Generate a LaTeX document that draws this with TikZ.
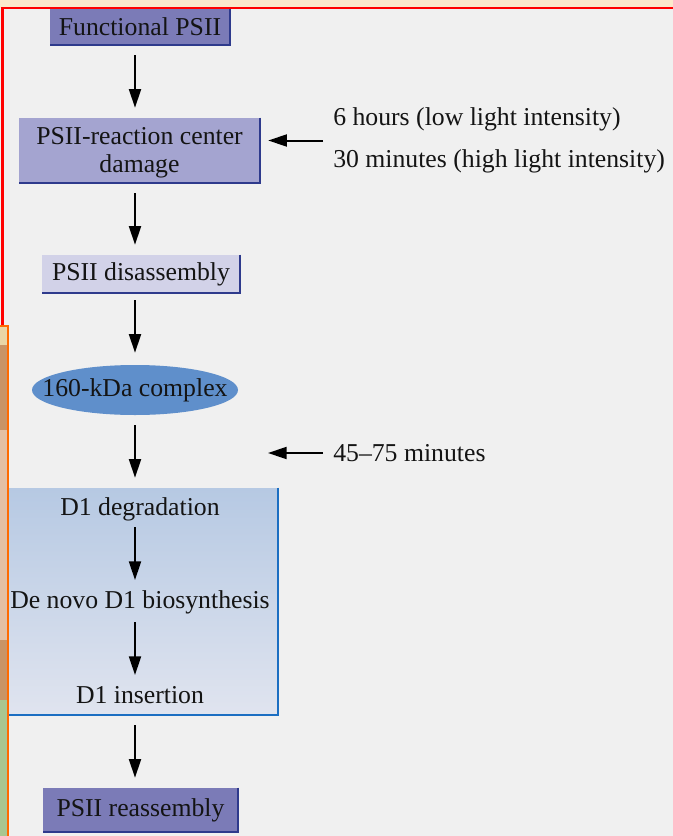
\documentclass[tikz,border=0pt]{standalone}
\usepackage{fontspec}
\setmainfont{Liberation Serif}
\usetikzlibrary{arrows.meta,shapes.geometric,calc}

\definecolor{pagebg}{HTML}{F0F0F0}
\definecolor{stripfill}{HTML}{FBE9CC}
\definecolor{framered}{HTML}{FF0000}
\definecolor{frameorange}{HTML}{FF6A00}
\definecolor{ink}{HTML}{141414}
\definecolor{darkviolet}{HTML}{7B7BB7}
\definecolor{midviolet}{HTML}{A4A4D0}
\definecolor{paleviolet}{HTML}{D2D2E8}
\definecolor{navyedge}{HTML}{2E3A8C}
\definecolor{complexblue}{HTML}{5F8FCB}
\definecolor{boxtop}{HTML}{B6C9E3}
\definecolor{boxbottom}{HTML}{E0E4EF}
\definecolor{boxedge}{HTML}{1B6EC2}
\definecolor{sand}{HTML}{EAD6A6}
\definecolor{umber}{HTML}{C99466}
\definecolor{blush}{HTML}{E4C0A4}
\definecolor{sage}{HTML}{A9C690}

\tikzset{
  stepbox/.style={rectangle, inner sep=0pt, text=ink, align=center,
    font=\fontsize{19.3}{21}\selectfont},
  label/.style={inner sep=0pt, text=ink, font=\fontsize{19.3}{21}\selectfont},
  flow/.style={-{Triangle[length=14pt,width=9pt]}, line width=1.5pt, black},
  shadowedge/.style={line width=1.6pt, navyedge},
}
% dark edge along the right and bottom sides of a box
\newcommand\rightbottomedge[2]{\draw[#2] (#1.north east) -- (#1.south east) -- (#1.south west);}

\begin{document}
\begin{tikzpicture}[x=0.75pt,y=-0.75pt]
  % page background and frame
  \fill[pagebg] (0,0) rectangle (673,836);
  \useasboundingbox (0,0) rectangle (673,836);
  \fill[stripfill] (0,0) rectangle (673,8);

  % left side panel
  \fill[sand]  (0,325) rectangle (8,345);
  \fill[umber] (0,345) rectangle (8,430);
  \fill[blush] (0,430) rectangle (8,640);
  \fill[umber] (0,640) rectangle (8,700);
  \fill[sage]  (0,700) rectangle (8,836);

  \coordinate (ax) at (135,0);

  % steps
  \node[stepbox, fill=darkviolet, minimum width=135pt, minimum height=27.75pt]
    (fps) at (140,26.5) {Functional PSII};
  \node[stepbox, fill=midviolet, minimum width=180.75pt, minimum height=48.75pt]
    (dmg) at (139.5,150.5) {};
  \node[stepbox] at (139.5,152.5) {PSII-reaction center\\damage};
  \node[stepbox, fill=paleviolet, minimum width=148.5pt, minimum height=28.5pt]
    (dis) at (141,274) {PSII disassembly};
  \node[ellipse, inner sep=0pt, fill=complexblue, minimum width=154.5pt, minimum height=37.5pt]
    (cplx) at (135,390) {};
  \node[label] at (cplx.center) {160-kDa complex};
  \node[rectangle, inner sep=0pt, top color=boxtop, bottom color=boxbottom,
        minimum width=201.75pt, minimum height=170.25pt]
    (repair) at (143.5,601.5) {};
  \node[stepbox, fill=darkviolet, minimum width=146.25pt, minimum height=33pt]
    (reas) at (140.5,810) {PSII reassembly};

  \rightbottomedge{fps}{shadowedge}
  \rightbottomedge{dmg}{shadowedge}
  \rightbottomedge{dis}{shadowedge}
  \rightbottomedge{reas}{shadowedge}
  \rightbottomedge{repair}{line width=1.8pt, boxedge}

  % steps inside the repair box
  \node[label] (d1deg) at (140,509) {D1 degradation};
  \node[label] (d1syn) at (140,602) {De novo D1 biosynthesis};
  \node[label] (d1ins) at (140,695) {D1 insertion};

  % timing notes
  \node[label, anchor=west, align=left, font=\fontsize{19.3}{31.5}\selectfont]
    (times) at (333,140.5) {6 hours (low light intensity)\\30 minutes (high light intensity)};
  \node[label, anchor=west] (mins) at (333,453) {45–75 minutes};
  \coordinate (mintip) at (268,453);

  % main flow
  \draw[flow] ([yshift=-7.5pt]fps.south -| ax) -- ([yshift=7.5pt]dmg.north -| ax);
  \draw[flow] ([yshift=-7.5pt]dmg.south -| ax) -- ([yshift=7.5pt]dis.north -| ax);
  \draw[flow] ([yshift=-5.25pt]dis.south -| ax) -- ([yshift=9pt]cplx.north -| ax);
  \draw[flow] ([yshift=-7.5pt]cplx.south -| ax) -- ([yshift=7.5pt]repair.north -| ax);
  \draw[flow] ([yshift=-13.5pt]d1deg.center -| ax) -- ([yshift=16.5pt]d1syn.center -| ax);
  \draw[flow] ([yshift=-15pt]d1syn.center -| ax) -- ([yshift=15pt]d1ins.center -| ax);
  \draw[flow] ([yshift=-7.5pt]repair.south -| ax) -- ([yshift=7.5pt]reas.north -| ax);

  % side arrows
  \draw[flow] ([xshift=-7.5pt]times.west) -- ([xshift=6pt]dmg.east |- times.west);
  \draw[flow] ([xshift=-7.5pt]mins.west) -- (mintip);

  % frame lines
  \draw[framered, line width=1.5pt] (2.5,325) -- (2.5,8) -- (673,8);
  \draw[frameorange, line width=1.5pt] (0,325.5) -- (7.5,325.5) -- (7.5,836);
\end{tikzpicture}
\end{document}
